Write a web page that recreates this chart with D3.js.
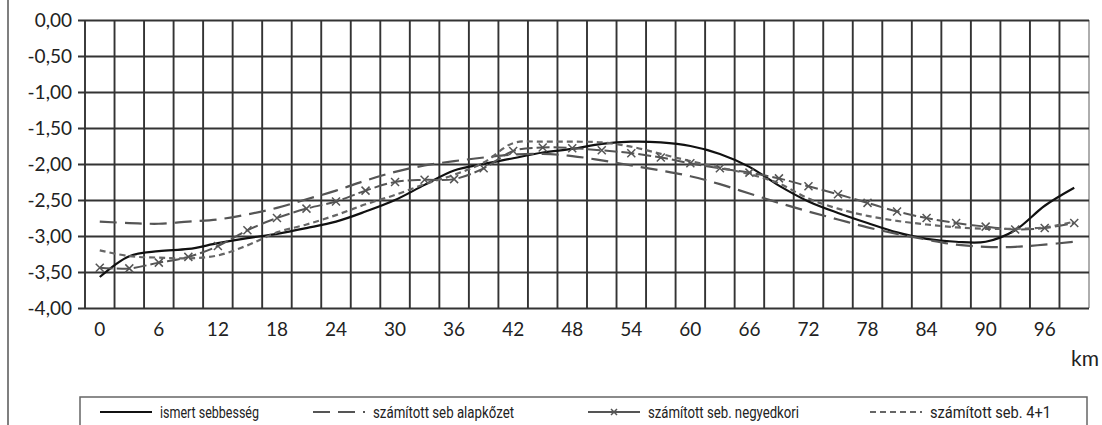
<!DOCTYPE html>
<html>
<head>
<meta charset="utf-8">
<script src="https://cdnjs.cloudflare.com/ajax/libs/d3/7.8.5/d3.min.js"></script>
<style>
    body { margin: 0; background: #fff; }
    svg { display: block; }
    .tick text { font-family: Lato, "DejaVu Sans", sans-serif; font-size: 19px; fill: #222; }
    .legend text { font-family: Roboto, "DejaVu Sans", sans-serif; font-size: 16px; fill: #222; }
</style>
</head>
<body>
<svg id="chart" width="1102" height="425"></svg>
<script>
// km positions (every 3 km), only every second one is labelled
var kmValues = [0,3,6,9,12,15,18,21,24,27,30,33,36,39,42,45,48,51,54,57,60,63,66,69,72,75,78,81,84,87,90,93,96,99];
var kmLabels = [0,6,12,18,24,30,36,42,48,54,60,66,72,78,84,90,96];
var yTicks = [0,-0.5,-1,-1.5,-2,-2.5,-3,-3.5,-4];

var seriesNames = ["ismert sebbesség", "számított seb alapkőzet", "számított seb. negyedkori", "számított seb. 4+1"];

var ismert = [-3.57,-3.28,-3.21,-3.18,-3.10,-3.03,-2.97,-2.89,-2.80,-2.66,-2.50,-2.29,-2.09,-2.00,-1.92,-1.84,-1.79,-1.72,-1.69,-1.70,-1.75,-1.86,-2.04,-2.30,-2.52,-2.68,-2.82,-2.95,-3.04,-3.08,-3.08,-2.92,-2.58,-2.33];
var alapkozet = [-2.80,-2.82,-2.83,-2.80,-2.77,-2.70,-2.61,-2.49,-2.37,-2.23,-2.11,-2.02,-1.96,-1.91,-1.87,-1.86,-1.89,-1.95,-2.02,-2.09,-2.17,-2.28,-2.41,-2.54,-2.66,-2.77,-2.88,-2.97,-3.05,-3.12,-3.15,-3.15,-3.12,-3.08];
var negyedkori = [-3.44,-3.45,-3.37,-3.29,-3.14,-2.92,-2.75,-2.62,-2.52,-2.37,-2.25,-2.22,-2.21,-2.06,-1.82,-1.77,-1.78,-1.81,-1.85,-1.91,-1.99,-2.06,-2.12,-2.20,-2.31,-2.42,-2.54,-2.66,-2.75,-2.82,-2.87,-2.91,-2.89,-2.82];
var negyPlusEgy = [-3.20,-3.28,-3.30,-3.31,-3.27,-3.13,-2.95,-2.84,-2.71,-2.56,-2.43,-2.28,-2.15,-1.98,-1.71,-1.69,-1.69,-1.70,-1.76,-1.86,-1.96,-2.05,-2.14,-2.27,-2.48,-2.62,-2.72,-2.79,-2.84,-2.88,-2.90,-2.90,-2.88,-2.80];

var svg = d3.select("#chart");
var pLeft = 85, pRight = 1089, pTop = 20, pBottom = 308;
var gridColor = "#333";

var x = d3.scaleBand()
    .domain(kmValues)
    .range([pLeft, pRight])
    .padding(0);
var y = d3.scaleLinear()
    .domain([-4, 0])
    .range([pBottom, pTop]);

var locale = d3.formatLocale({decimal: ",", thousands: " ", grouping: [3], currency: ["", ""], minus: "-"});
var fmt = locale.format(".2f");

function cx(d) { return x(d) + x.bandwidth() / 2; }

// outer frame line on the left
svg.append("line")
    .attr("x1", 8).attr("x2", 8)
    .attr("y1", 0).attr("y2", 425)
    .attr("stroke", "#555").attr("stroke-width", 1.5);

// vertical grid, on the band borders
var vx = kmValues.map(function(d){ return x(d); });
vx.push(pRight);
svg.append("g").selectAll("line")
    .data(vx)
    .enter().append("line")
    .attr("x1", function(d){ return d; })
    .attr("x2", function(d){ return d; })
    .attr("y1", pTop).attr("y2", pBottom)
    .attr("stroke", function(d, i){ return i == vx.length - 1 ? "#aaa" : gridColor; })
    .attr("stroke-width", 1.9);

// y axis + horizontal grid
var yAxis = svg.append("g")
    .attr("transform", "translate(" + (pLeft - 7) + ",0)")
    .call(d3.axisLeft(y).tickValues(yTicks).tickFormat(fmt)
        .tickSizeInner(-(pRight - pLeft + 7)).tickSizeOuter(0).tickPadding(6));
yAxis.select(".domain").remove();
yAxis.selectAll(".tick line").attr("stroke", gridColor).attr("stroke-width", 1.9);

// x axis labels
var xAxis = svg.append("g")
    .attr("transform", "translate(0," + pBottom + ")")
    .call(d3.axisBottom(x).tickValues(kmLabels).tickSize(0).tickPadding(15));
xAxis.select(".domain").remove();

svg.append("text")
    .attr("x", 1099).attr("y", 366)
    .attr("text-anchor", "end")
    .style("font-family", "Lato, 'DejaVu Sans', sans-serif")
    .style("font-size", "21px").style("fill", "#222")
    .text("km");

var line = d3.line()
    .x(function(d, i){ return cx(kmValues[i]); })
    .y(function(d){ return y(d); })
    .curve(d3.curveCatmullRom.alpha(0.5));

var styles = [
    {data: ismert, color: "#111", dash: null, width: 2.2},
    {data: alapkozet, color: "#555", dash: "17,8", width: 2.2},
    {data: negyedkori, color: "#555", dash: "13,4", width: 2},
    {data: negyPlusEgy, color: "#666", dash: "6,4", width: 2.2}
];

var plot = svg.append("g");
styles.forEach(function(s){
    plot.append("path")
        .datum(s.data)
        .attr("d", line)
        .attr("fill", "none")
        .attr("stroke", s.color)
        .attr("stroke-width", s.width)
        .attr("stroke-dasharray", s.dash);
});

// x markers on the negyedkori series
function cross(sel, r) {
    sel.append("path")
        .attr("d", "M" + (-r) + "," + (-r) + "L" + r + "," + r + "M" + (-r) + "," + r + "L" + r + "," + (-r))
        .attr("stroke", "#555").attr("stroke-width", 1.5).attr("fill", "none");
}
plot.selectAll(".mark")
    .data(negyedkori)
    .enter().append("g")
    .attr("class", "mark")
    .attr("transform", function(d, i){ return "translate(" + cx(kmValues[i]) + "," + y(d) + ")"; })
    .each(function(){ cross(d3.select(this), 4); });

// legend
var legend = svg.append("g").attr("class", "legend");
legend.append("rect")
    .attr("x", 80).attr("y", 397)
    .attr("width", 1007).attr("height", 40)
    .attr("fill", "none").attr("stroke", "#666").attr("stroke-width", 1.5);

var legendX = [100, 313, 588, 870];
var legendW = [99, 141, 151, 121];
var ly = 412;
styles.forEach(function(s, i){
    var g = legend.append("g");
    g.append("line")
        .attr("x1", legendX[i]).attr("x2", legendX[i] + 52)
        .attr("y1", ly).attr("y2", ly)
        .attr("stroke", s.color).attr("stroke-width", s.width)
        .attr("stroke-dasharray", i == 2 ? null : s.dash);
    if (i == 2) {
        g.append("g").attr("transform", "translate(" + (legendX[i] + 26) + "," + ly + ")")
            .call(cross, 3);
    }
    g.append("text")
        .attr("x", legendX[i] + 60).attr("y", ly + 6)
        .attr("textLength", legendW[i])
        .attr("lengthAdjust", "spacingAndGlyphs")
        .text(seriesNames[i]);
});
</script>
</body>
</html>
